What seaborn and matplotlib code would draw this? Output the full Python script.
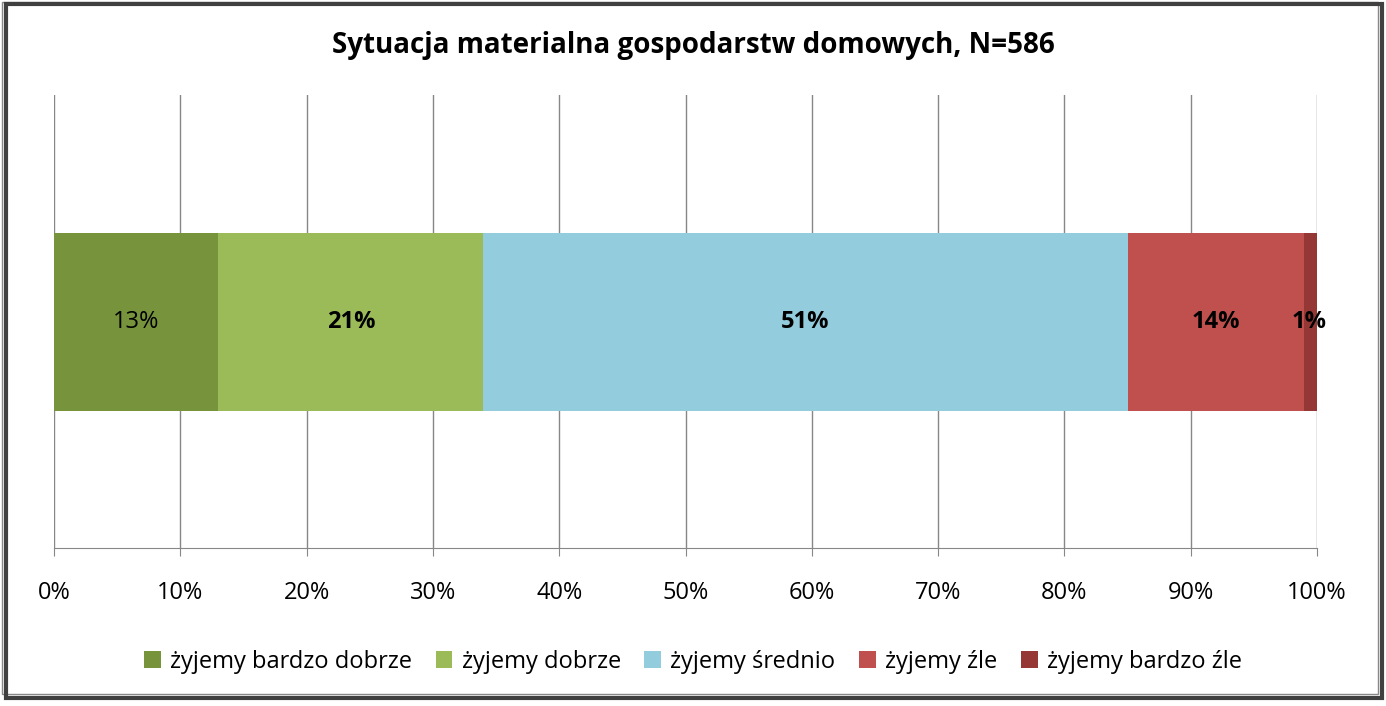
import matplotlib
matplotlib.use("Agg")
import matplotlib.pyplot as plt
import seaborn as sns
import pandas as pd
import numpy as np
from matplotlib.patches import Rectangle, Patch

categories = ["żyjemy bardzo dobrze", "żyjemy dobrze", "żyjemy średnio", "żyjemy źle", "żyjemy bardzo źle"]
values = [13, 21, 51, 14, 1]
colors = ["#77933C", "#9BBB59", "#93CDDD", "#C0504D", "#953735"]
labels = ["13%", "21%", "51%", "14%", "1%"]
bold = [False, True, True, True, True]
ticks = [0, 10, 20, 30, 40, 50, 60, 70, 80, 90, 100]

plt.rcParams["font.family"] = ["Open Sans", "DejaVu Sans"]
fig = plt.figure(figsize=(13.86, 7.06), dpi=100)
ax = fig.add_axes([54/1386, 1-548/706, (1317-54)/1386, (548-95)/706])

cum = np.cumsum(values)
starts = cum - np.array(values)
for i in reversed(range(len(values))):
    df = pd.DataFrame({"y": ["a"], "x": [cum[i]]})
    sns.barplot(data=df, x="x", y="y", orient="h", color=colors[i], saturation=1,
                width=178/453, ax=ax, edgecolor="none", zorder=3)
for i in range(len(values)):
    xc = starts[i] + values[i]/2
    if i == 4:
        xc = starts[i] + 0.4
    ax.text(xc, 0, labels[i], ha="center", va="center", fontsize=17,
            fontweight="bold" if bold[i] else "normal", color="black", zorder=5)

ax.set_xlim(0, 100)
ax.set_ylim(0.5, -0.5)
ax.set_xticks(ticks)
ax.set_xticklabels([f"{t}%" for t in ticks], fontsize=17)
ax.set_yticks([])
ax.set_xlabel(""); ax.set_ylabel("")
ax.grid(axis="x", color="#878787", linewidth=1, zorder=0)
ax.set_axisbelow(True)
for s in ["top", "right", "left"]:
    ax.spines[s].set_visible(False)
ax.spines["bottom"].set_color("#878787")
ax.tick_params(axis="x", length=6, color="#878787", pad=18)

fig.text(0.5, 1-45/706, "Sytuacja materialna gospodarstw domowych, N=586",
         ha="center", va="center", fontsize=20, fontweight="bold")

handles = [Patch(facecolor=c, label=l) for c, l in zip(colors, categories)]
fig.legend(handles=handles, loc="center", bbox_to_anchor=(0.5, 1-662/706), ncol=5,
           frameon=False, fontsize=17, handlelength=0.7, handleheight=0.7,
           columnspacing=1.0, handletextpad=0.4)

fig.patches.append(Rectangle((6/1386, 8/706), 1376/1386, 694/706, transform=fig.transFigure,
                             facecolor="none", edgecolor="#404040", linewidth=3))
fig.patches.append(Rectangle((2/1386, 12/706), 1376/1386, 692/706, transform=fig.transFigure,
                             facecolor="white", edgecolor="#888888", linewidth=1, zorder=-1))
fig.savefig("out.png", dpi=100)
